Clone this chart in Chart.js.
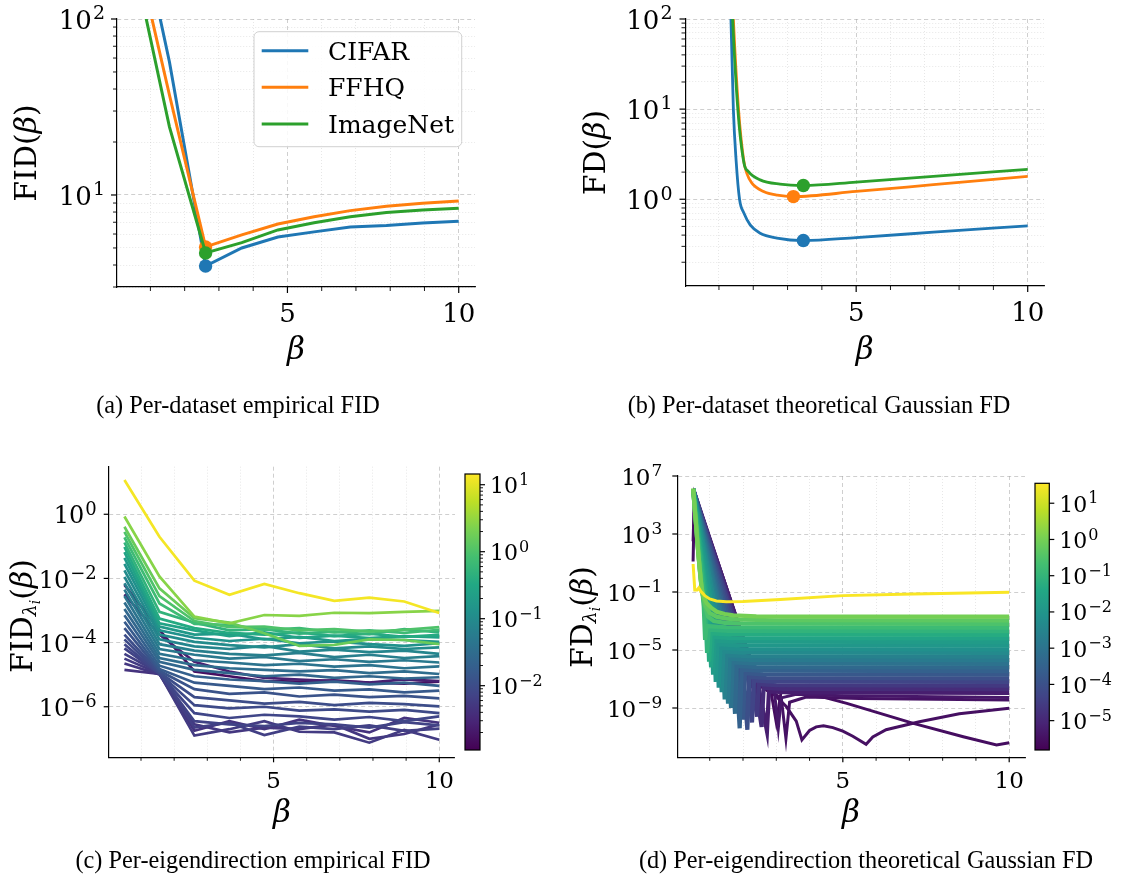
<!DOCTYPE html>
<html>
<head>
<meta charset="utf-8">
<script src="https://cdn.jsdelivr.net/npm/chart.js@4.4.1/dist/chart.umd.min.js"></script>
<style>
html, body { margin: 0; padding: 0; background: #fff; }
#fig { position: relative; width: 1125px; height: 886px; overflow: hidden; }
#fig canvas { position: absolute; left: 0; top: 0; }
.cap { position: absolute; width: 600px; text-align: center; font-family: "Liberation Serif", "Times New Roman", serif;
       font-size: 24.3px; line-height: 28px; color: #000; white-space: nowrap; }
</style>
</head>
<body>
<div id="fig">
  <canvas id="chA" width="1125" height="886"></canvas>
  <canvas id="chB" width="1125" height="886"></canvas>
  <canvas id="chC" width="1125" height="886"></canvas>
  <canvas id="chD" width="1125" height="886"></canvas>
  <canvas id="cbC" width="1125" height="886"></canvas>
  <canvas id="cbD" width="1125" height="886"></canvas>
  <div class="cap" style="left:-62px;top:391px">(a) Per-dataset empirical FID</div>
  <div class="cap" style="left:519px;top:391px">(b) Per-dataset theoretical Gaussian FD</div>
  <div class="cap" style="left:-47px;top:846px">(c) Per-eigendirection empirical FID</div>
  <div class="cap" style="left:566px;top:846px">(d) Per-eigendirection theoretical Gaussian FD</div>
</div>
<script>
const W = 1125, H = 886;

// (a) empirical FID per dataset, sampled at 10 values of beta
const betaA = [0.5, 1.556, 2.611, 3.667, 4.722, 5.778, 6.833, 7.889, 8.944, 10];
const cifarA = [520, 57, 3.95, 5.0, 5.77, 6.17, 6.58, 6.7, 6.93, 7.1];
const ffhqA = [290, 37, 5.07, 5.93, 6.84, 7.53, 8.15, 8.63, 8.98, 9.25];
const imagenetA = [220, 24.4, 4.68, 5.36, 6.33, 6.96, 7.53, 7.94, 8.22, 8.4];

// (b) theoretical Gaussian FD per dataset
const cifarBx = [1.30, 1.35, 1.42, 1.50, 1.60, 1.73, 1.91, 2.2, 2.69, 3.46, 5.0, 7.25, 10];
const cifarBy = [300, 100, 10, 2.7, 1.0, 0.70, 0.52, 0.42, 0.371, 0.348, 0.376, 0.431, 0.507];
const ffhqBx = [1.36, 1.42, 1.57, 1.72, 1.81, 1.96, 2.30, 2.7, 3.17, 5.0, 7.25, 10];
const ffhqBy = [400, 100, 10, 2.73, 1.95, 1.51, 1.22, 1.11, 1.07, 1.22, 1.45, 1.79];
const imagenetBx = [1.34, 1.40, 1.55, 1.73, 1.86, 2.20, 2.78, 3.46, 5.0, 7.25, 10];
const imagenetBy = [400, 100, 10, 2.51, 2.03, 1.64, 1.47, 1.42, 1.55, 1.79, 2.15];
const minIdxB = [9, 8, 7];

// (c) per-eigendirection empirical FID: log10 eigenvalue and log10 FID at betaA
const fidEig = [1.10, 0.42, 0.21, 0.0, -0.15, -0.3, -0.45, -0.6, -0.75, -0.9, -1.0, -1.1, -1.2, -1.3, -1.4,
                -1.5, -1.6, -1.7, -1.8, -1.9, -2.0, -2.05, -2.1, -2.15, -2.2, -2.25, -2.3, -2.35, -2.6, -2.8];
const fidLog = [
  [1.07, -0.70, -2.07, -2.51, -2.17, -2.46, -2.70, -2.60, -2.72, -3.08],
  [-0.07, -1.94, -3.19, -3.40, -3.14, -3.17, -3.07, -3.08, -3.04, -3.01],
  [-0.39, -2.31, -3.24, -3.38, -3.71, -4.10, -4.07, -3.90, -3.92, -4.05],
  [-0.55, -2.55, -3.33, -3.52, -3.50, -3.62, -3.58, -3.66, -3.60, -3.52],
  [-0.72, -2.78, -3.42, -3.45, -3.60, -3.55, -3.68, -3.62, -3.70, -3.60],
  [-0.88, -3.04, -3.38, -3.62, -3.58, -3.72, -3.66, -3.74, -3.58, -3.68],
  [-1.02, -3.25, -3.55, -3.70, -3.75, -3.68, -3.80, -3.72, -3.82, -3.76],
  [-1.18, -3.40, -3.62, -3.80, -3.68, -3.85, -3.78, -3.86, -3.80, -3.84],
  [-1.36, -3.50, -3.75, -3.72, -3.90, -3.82, -3.95, -3.88, -3.92, -3.98],
  [-1.55, -3.62, -3.85, -3.95, -3.88, -4.02, -3.96, -4.05, -4.10, -4.02],
  [-1.75, -3.75, -3.98, -4.08, -4.15, -4.05, -4.18, -4.12, -4.20, -4.15],
  [-1.95, -3.90, -4.12, -4.20, -4.10, -4.28, -4.22, -4.30, -4.25, -4.35],
  [-2.15, -4.05, -4.25, -4.35, -4.40, -4.32, -4.45, -4.38, -4.48, -4.42],
  [-2.35, -4.20, -4.38, -4.50, -4.45, -4.58, -4.52, -4.60, -4.55, -4.62],
  [-2.55, -4.35, -4.55, -4.62, -4.70, -4.66, -4.75, -4.70, -4.80, -4.74],
  [-2.75, -4.48, -4.70, -4.80, -4.85, -4.90, -4.86, -4.95, -4.90, -4.98],
  [-2.95, -4.60, -4.85, -4.95, -5.05, -5.00, -5.10, -5.05, -5.12, -5.08],
  [-3.15, -4.72, -5.05, -5.15, -5.20, -5.28, -5.22, -5.30, -5.25, -5.35],
  [-3.35, -4.82, -5.25, -5.35, -5.45, -5.40, -5.50, -5.46, -5.55, -5.50],
  [-3.55, -4.88, -5.45, -5.60, -5.55, -5.68, -5.62, -5.70, -5.66, -5.74],
  [-3.75, -4.93, -5.70, -5.80, -5.90, -5.85, -5.95, -5.88, -5.92, -5.99],
  [-3.90, -4.96, -5.95, -6.05, -6.00, -6.12, -6.08, -6.15, -6.10, -6.20],
  [-4.05, -4.98, -6.20, -6.35, -6.25, -6.30, -6.40, -6.32, -6.45, -6.30],
  [-4.18, -4.97, -6.45, -6.55, -6.60, -6.50, -6.55, -6.65, -6.48, -6.58],
  [-4.35, -4.95, -6.65, -6.50, -6.88, -6.62, -6.70, -6.58, -6.75, -6.68],
  [-4.50, -4.97, -6.90, -6.70, -6.45, -6.78, -6.80, -7.12, -6.72, -7.03],
  [-4.65, -4.99, -6.55, -6.80, -6.65, -6.70, -6.55, -7.00, -6.85, -6.55],
  [-4.85, -4.98, -6.75, -6.45, -6.70, -6.40, -6.60, -6.80, -6.35, -6.50],
  [-2.50, -3.75, -4.60, -4.90, -5.10, -5.15, -5.20, -5.25, -5.15, -5.20],
  [-2.20, -3.60, -4.90, -5.05, -5.20, -5.22, -5.18, -5.25, -5.28, -5.22]
];

// (d) per-eigendirection Gaussian FD: log10 eigenvalue and [beta, log10 FD] points
const fdEig = [0.0, -0.3, -0.55, -0.8, -1.05, -1.3, -1.55, -1.8, -1.95, -2.15, -2.35, -2.6, -2.8, -3.05,
               -3.3, -3.55, -3.8, -4.05, -4.3, -4.6, -4.9, -5.2, -5.35, -5.45, -5.55, -5.5];
const fdCurves = [
  [[0.5, 6.15], [0.57, 4.2], [0.63, 2.36], [0.7, 0.6], [0.76, -0.86], [0.83, -1.4], [0.91, -1.78], [1.05, -2.1], [1.21, -2.36], [1.45, -2.52], [1.71, -2.61], [2.4, -2.68], [3.5, -2.7], [10, -2.7]],
  [[0.5, 6.1], [0.58, 3.9], [0.65, 1.8], [0.72, 0.0], [0.79, -1.2], [0.87, -1.95], [1.0, -2.45], [1.2, -2.7], [1.5, -2.84], [1.9, -2.91], [3, -2.95], [10, -2.95]],
  [[0.5, 6.1], [0.59, 3.6], [0.67, 1.3], [0.75, -0.6], [0.84, -1.9], [0.95, -2.7], [1.12, -3.0], [1.45, -3.13], [2.0, -3.18], [10, -3.2]],
  [[0.5, 6.1], [0.82, -2.0], [0.86, -4.3], [0.91, -3.35], [1.5, -3.43], [10, -3.45]],
  [[0.5, 6.1], [0.86, -1.8], [0.92, -5.2], [0.97, -3.6], [1.55, -3.68], [10, -3.7]],
  [[0.5, 6.1], [0.92, -2.07], [0.98, -5.8], [1.03, -3.85], [1.6, -3.93], [10, -3.95]],
  [[0.5, 6.1], [0.97, -2.15], [1.04, -6.2], [1.09, -4.1], [1.65, -4.18], [10, -4.2]],
  [[0.5, 6.1], [1.04, -2.45], [1.1, -6.7], [1.15, -4.35], [1.7, -4.43], [10, -4.45]],
  [[0.5, 6.1], [1.11, -2.68], [1.18, -7.2], [1.23, -4.6], [1.8, -4.68], [10, -4.7]],
  [[0.5, 6.1], [1.2, -3.15], [1.27, -7.6], [1.32, -4.85], [1.9, -4.93], [10, -4.95]],
  [[0.5, 6.1], [1.28, -3.45], [1.36, -7.9], [1.41, -5.1], [2.0, -5.18], [10, -5.2]],
  [[0.5, 6.1], [1.36, -3.74], [1.45, -8.4], [1.5, -5.35], [2.1, -5.43], [10, -5.45]],
  [[0.5, 6.1], [1.46, -4.1], [1.55, -8.7], [1.6, -5.6], [2.2, -5.68], [10, -5.7]],
  [[0.5, 6.1], [1.53, -4.24], [1.64, -9.0], [1.69, -5.85], [2.3, -5.93], [10, -5.95]],
  [[0.5, 6.1], [1.64, -4.64], [1.76, -9.4], [1.81, -6.1], [2.4, -6.18], [10, -6.2]],
  [[0.5, 6.1], [1.77, -5.19], [1.9, -10.4], [1.96, -6.35], [2.5, -6.43], [10, -6.45]],
  [[0.5, 6.1], [1.87, -5.44], [2.0, -9.8], [2.06, -6.6], [2.6, -6.68], [10, -6.7]],
  [[0.5, 6.1], [1.98, -5.73], [2.13, -10.5], [2.19, -6.85], [2.7, -6.93], [10, -6.95]],
  [[0.5, 6.1], [2.12, -6.18], [2.27, -10.0], [2.33, -7.1], [2.9, -7.18], [10, -7.2]],
  [[0.5, 6.1], [2.25, -6.64], [2.42, -9.6], [2.48, -7.35], [3.0, -7.43], [10, -7.45]],
  [[0.5, 6.1], [2.35, -7.04], [2.56, -10.3], [2.62, -7.6], [3.2, -7.68], [10, -7.7]],
  [[0.5, 6.1], [2.45, -7.35], [2.72, -10.6], [2.78, -7.85], [3.4, -7.93], [10, -7.95]],
  [[0.5, 6.1], [2.46, -7.2], [2.95, -8.0], [3.06, -10.4], [3.15, -8.3], [3.6, -8.05], [5, -8.15], [10, -8.27]],
  [[0.5, 6.1], [2.49, -7.4], [3.15, -8.3], [3.29, -11.1], [3.4, -8.6], [3.9, -8.25], [5.5, -8.35], [10, -8.45]],
  [[0.5, 2.5], [0.54, 5.7], [2.45, -7.3], [2.85, -8.0], [3.0, -10.0], [3.15, -7.8], [3.62, -7.76], [5.12, -8.68], [7.12, -10.06], [8.62, -10.98], [9.62, -11.55], [10, -11.39]],
  [[0.5, 1.1], [0.54, 5.6], [2.45, -7.4], [2.95, -8.1], [3.3, -8.9], [3.6, -9.9], [3.77, -11.2], [4.0, -10.55], [4.2, -10.3], [4.42, -10.22], [4.7, -10.35], [5.0, -10.6], [5.3, -10.95], [5.7, -11.5], [5.9, -11.0], [6.3, -10.5], [7.3, -9.95], [8.5, -9.4], [10, -9.02]]
];
const fdYellowEig = 1.5;
const fdYellow = [[0.5, 0.93], [0.55, -0.86], [0.62, -0.86], [0.67, -0.72], [0.73, -0.95], [0.85, -1.25], [1.0, -1.48],
                  [1.2, -1.62], [1.5, -1.68], [2.0, -1.66], [3.12, -1.51], [5, -1.25], [7.12, -1.14], [10, -1.02]];

// colour bar ranges (log10)
const cbRangeC = [-2.96, 1.16];
const cbRangeD = [-5.81, 1.55];

const legendNames = ['CIFAR', 'FFHQ', 'ImageNet'];
const tab = ['#1f77b4', '#ff7f0e', '#2ca02c'];
const VIR = ['#440154', '#482475', '#414487', '#355f8d', '#2a788e', '#21918c', '#22a884', '#44bf70', '#7ad151', '#bddf26', '#fde725'];

function hexRgb(h) { return [1, 3, 5].map(i => parseInt(h.substr(i, 2), 16)); }
function viridis(t) {
  t = Math.max(0, Math.min(1, t));
  const p = t * 10, i = Math.min(9, Math.floor(p)), f = p - i;
  const a = hexRgb(VIR[i]), b = hexRgb(VIR[i + 1]);
  return 'rgb(' + a.map((v, k) => Math.round(v + (b[k] - v) * f)).join(',') + ')';
}
const font = (sz, it) => (it ? 'italic ' : '') + sz + 'px "DejaVu Serif"';

function minorsBetween(lo, hi) {
  const out = [];
  for (let k = lo; k < hi; k++) for (let m = 2; m <= 9; m++) out.push(m * Math.pow(10, k));
  return out;
}
function tickList(majors, minors, lo, hi) {
  const t = majors.map(v => ({ value: v, major: true })).concat(minors.map(v => ({ value: v, major: false })));
  return t.filter(o => o.value >= lo * 0.9999 && o.value <= hi * 1.0001).sort((a, b) => a.value - b.value);
}
const xTicks = [1, 2, 3, 4, 5, 6, 7, 8, 9, 10].map(v => ({ value: v, major: v === 5 || v === 10 }));

function pow10(ctx, e, x, y, size, align) {
  const ex = e < 0 ? '\u2212' + (-e) : String(e);
  const f1 = font(size), f2 = font(Math.round(size * 0.74));
  ctx.font = f1; const w1 = ctx.measureText('10').width;
  ctx.font = f2; const w2 = ctx.measureText(ex).width;
  const x0 = align === 'right' ? x - w1 - w2 - 1 : x;
  ctx.textAlign = 'left'; ctx.textBaseline = 'alphabetic';
  ctx.font = f1; ctx.fillText('10', x0, y);
  ctx.font = f2; ctx.fillText(ex, x0 + w1 + 1, y - size * 0.37);
}

function rich(ctx, segs, cx, cy, rot) {
  let w = 0;
  segs.forEach(s => { ctx.font = s.f; s.w = ctx.measureText(s.t).width; w += s.w; });
  ctx.save();
  ctx.translate(cx, cy);
  if (rot) ctx.rotate(-Math.PI / 2);
  ctx.fillStyle = '#000'; ctx.textAlign = 'left'; ctx.textBaseline = 'alphabetic';
  let x = -w / 2;
  segs.forEach(s => { ctx.font = s.f; ctx.fillText(s.t, x, s.dy || 0); x += s.w; });
  ctx.restore();
}
const betaLabel = (cx, by) => ctx => rich(ctx, [{ t: 'β', f: font(31, true) }], cx, by, false);
function yName(name, sub) {
  const s = [{ t: name, f: font(30) }];
  if (sub) s.push({ t: 'λ', f: font(19, true), dy: 4 }, { t: 'i', f: font(14, true), dy: 8 });
  s.push({ t: '(', f: font(30) }, { t: 'β', f: font(30, true) }, { t: ')', f: font(30) });
  return s;
}

function decor(cfg) {
  return {
    id: 'decor',
    afterDraw(chart) {
      const ctx = chart.ctx, a = chart.chartArea;
      ctx.save();
      if (cfg.pre) cfg.pre(ctx, a);
      ctx.strokeStyle = '#000'; ctx.fillStyle = '#000'; ctx.setLineDash([]);
      const xs = chart.scales.x, ys = chart.scales.y;
      if (cfg.x) {
        for (const t of xs.ticks) {
          const px = xs.getPixelForValue(t.value);
          ctx.lineWidth = t.major ? 1.2 : 0.9;
          ctx.beginPath(); ctx.moveTo(px, a.bottom); ctx.lineTo(px, a.bottom + (t.major ? cfg.x.maj : cfg.x.min)); ctx.stroke();
          if (t.major) {
            ctx.font = font(cfg.x.size); ctx.textAlign = 'center'; ctx.textBaseline = 'alphabetic';
            ctx.fillText(String(t.value), px, a.bottom + cfg.x.base);
          }
        }
      }
      if (cfg.y) {
        const right = !!cfg.y.right, edge = right ? a.right : a.left, dir = right ? 1 : -1;
        for (const t of ys.ticks) {
          const py = ys.getPixelForValue(t.value);
          ctx.lineWidth = t.major ? 1.2 : 0.9;
          ctx.beginPath(); ctx.moveTo(edge, py); ctx.lineTo(edge + dir * (t.major ? cfg.y.maj : cfg.y.min), py); ctx.stroke();
          if (t.major) pow10(ctx, Math.round(Math.log10(t.value)), edge + dir * cfg.y.gap, py + cfg.y.size * 0.38, cfg.y.size, right ? 'left' : 'right');
        }
      }
      (cfg.post || []).forEach(fn => fn(ctx, a));
      ctx.restore();
    }
  };
}

const isMaj = c => !!(c.tick && c.tick.major);
function gridOpts(minor) {
  return {
    drawTicks: false,
    color: c => isMaj(c) ? 'rgba(160,160,160,0.5)' : (minor ? 'rgba(160,160,160,0.32)' : 'rgba(0,0,0,0)'),
    lineWidth: c => isMaj(c) ? 1 : 0.8
  };
}
const borderOpts = { color: '#000', width: 1.2, dash: c => c.tick ? (isMaj(c) ? [4, 3] : [1, 2]) : [] };

function makeChart(id, area, xs, ys, datasets, deco) {
  datasets.forEach((d, i) => { d.order = datasets.length - i; });
  return new Chart(document.getElementById(id), {
    type: 'line',
    data: { datasets },
    options: {
      responsive: false, animation: false, events: [],
      layout: { padding: { left: area[0], top: area[1], right: W - area[2], bottom: H - area[3] } },
      plugins: { legend: { display: false }, tooltip: { enabled: false } },
      scales: {
        x: Object.assign({
          type: 'linear', bounds: 'data', min: 0.025, max: 10.475,
          afterBuildTicks: s => { s.ticks = xTicks.map(t => ({ ...t })); },
          afterFit: s => { s.height = 0; },
          ticks: { display: false }, grid: gridOpts(true), border: borderOpts
        }, xs || {}),
        y: Object.assign({
          type: 'logarithmic', bounds: 'data', min: ys.min, max: ys.max,
          afterBuildTicks: s => { s.ticks = ys.ticks.map(t => ({ ...t })); },
          afterFit: s => { s.width = 0; },
          ticks: { display: false }, grid: gridOpts(ys.minorGrid), border: borderOpts
        }, ys.extra || {})
      }
    },
    plugins: [decor(deco)]
  });
}

function line(points, color, lw, radii, mode) {
  return {
    data: points, borderColor: color, backgroundColor: color, borderWidth: lw,
    pointRadius: radii || 0, pointBorderWidth: 0, pointBackgroundColor: color,
    fill: false, tension: 0, cubicInterpolationMode: mode || 'default'
  };
}

function build() {
  // ---------- (a)
  const areaA = [117, 19, 475, 287];
  const dsA = [cifarA, ffhqA, imagenetA].map((ys, k) =>
    line(betaA.map((x, i) => ({ x, y: ys[i] })), tab[k], 3, betaA.map((_, i) => i === 2 ? 6.7 : 0)));
  const legendA = ctx => {
    const bx = 254, by = 31.7, bw = 207.7, bh = 115, r = 5;
    ctx.beginPath();
    ctx.moveTo(bx + r, by); ctx.arcTo(bx + bw, by, bx + bw, by + bh, r); ctx.arcTo(bx + bw, by + bh, bx, by + bh, r);
    ctx.arcTo(bx, by + bh, bx, by, r); ctx.arcTo(bx, by, bx + bw, by, r); ctx.closePath();
    ctx.fillStyle = 'rgba(255,255,255,0.85)'; ctx.fill();
    ctx.strokeStyle = '#d0d0d0'; ctx.lineWidth = 1; ctx.stroke();
    const rows = [50.7, 87.3, 124];
    legendNames.forEach((n, k) => {
      ctx.strokeStyle = tab[k]; ctx.lineWidth = 3;
      ctx.beginPath(); ctx.moveTo(261.7, rows[k]); ctx.lineTo(308.3, rows[k]); ctx.stroke();
      ctx.fillStyle = '#000'; ctx.font = font(25); ctx.textAlign = 'left'; ctx.textBaseline = 'alphabetic';
      ctx.fillText(n, 328, rows[k] + 9);
    });
  };
  makeChart('chA', areaA, null,
    { min: 3.0, max: 100, minorGrid: true, ticks: tickList([10, 100], minorsBetween(0, 2), 3.0, 100) },
    dsA,
    { x: { maj: 6, min: 4, size: 26, base: 35 }, y: { maj: 6, min: 4, size: 26, gap: 12 },
      post: [legendA, betaLabel(296, 359), ctx => rich(ctx, yName('FID', false), 36, 153, true)] });

  // ---------- (b)
  const areaB = [685.5, 19, 1044, 286];
  const dsB = [[cifarBx, cifarBy], [ffhqBx, ffhqBy], [imagenetBx, imagenetBy]].map(([xs, ys], k) =>
    line(xs.map((x, i) => ({ x, y: ys[i] })), tab[k], 2.8, xs.map((_, i) => i === minIdxB[k] ? 6.7 : 0), 'monotone'));
  makeChart('chB', areaB, null,
    { min: 0.109, max: 100, minorGrid: true, ticks: tickList([1, 10, 100], minorsBetween(-1, 2), 0.109, 100) },
    dsB,
    { x: { maj: 6, min: 4, size: 26, base: 35 }, y: { maj: 6, min: 4, size: 26, gap: 13 },
      post: [betaLabel(864.8, 359), ctx => rich(ctx, yName('FD', false), 605, 152.5, true)] });

  // ---------- (c): darkest drawn first, yellow last
  const areaC = [108.7, 466.7, 455, 757.3];
  const dsC = [];
  for (let k = fidLog.length - 1; k >= 0; k--) {
    const t = (fidEig[k] - cbRangeC[0]) / (cbRangeC[1] - cbRangeC[0]);
    dsC.push(line(betaA.map((x, i) => ({ x, y: Math.pow(10, fidLog[k][i]) })), viridis(t), 2.7));
  }
  makeChart('chC', areaC, null,
    { min: Math.pow(10, -7.576), max: Math.pow(10, 1.483), minorGrid: false, ticks: tickList([1, 1e-2, 1e-4, 1e-6], [], 1e-8, 100) },
    dsC,
    { x: { maj: 5, min: 3.5, size: 23, base: 31 }, y: { maj: 5, min: 3.5, size: 24, gap: 12 },
      post: [betaLabel(282, 822), ctx => rich(ctx, yName('FID', true), 32, 616, true)] });

  // ---------- (d): darkest drawn first, yellow last
  const areaD = [677.3, 476, 1025, 757.3];
  const dsD = [];
  for (let k = fdCurves.length - 1; k >= 0; k--) {
    const t = (fdEig[k] - cbRangeD[0]) / (cbRangeD[1] - cbRangeD[0]);
    dsD.push(line(fdCurves[k].map(p => ({ x: p[0], y: Math.pow(10, p[1]) })), viridis(t), k < 22 ? 4.2 : 3));
  }
  dsD.push(line(fdYellow.map(p => ({ x: p[0], y: Math.pow(10, p[1]) })),
    viridis((fdYellowEig - cbRangeD[0]) / (cbRangeD[1] - cbRangeD[0])), 3));
  makeChart('chD', areaD, null,
    { min: Math.pow(10, -12.4), max: 1e7, minorGrid: false, ticks: tickList([1e7, 1e3, 1e-1, 1e-5, 1e-9], [], 1e-13, 1e7) },
    dsD,
    { x: { maj: 5, min: 3.5, size: 23, base: 31 }, y: { maj: 5, min: 3.5, size: 23, gap: 15 },
      post: [betaLabel(851, 822), ctx => rich(ctx, yName('FD', true), 592, 617, true)] });

  // ---------- colour bars
  const barFill = (ctx, a) => {
    const g = ctx.createLinearGradient(0, a.bottom, 0, a.top);
    VIR.forEach((c, i) => g.addColorStop(i / 10, c));
    ctx.fillStyle = g; ctx.fillRect(a.left, a.top, a.right - a.left, a.bottom - a.top);
    ctx.strokeStyle = '#000'; ctx.lineWidth = 1.2; ctx.strokeRect(a.left, a.top, a.right - a.left, a.bottom - a.top);
  };
  const cbar = (id, area, rng, majors, minors) => {
    const lo = Math.pow(10, rng[0]), hi = Math.pow(10, rng[1]);
    makeChart(id, area, { display: false },
      { min: lo, max: hi, ticks: tickList(majors, minors, lo, hi),
        extra: { position: 'right', grid: { display: false }, border: { display: false } } },
      [],
      { pre: barFill, y: { right: true, maj: 5, min: 3, size: 22, gap: 10 } });
  };
  cbar('cbC', [465, 474, 480, 750], cbRangeC, [10, 1, 0.1, 0.01], minorsBetween(-3, 1));
  cbar('cbD', [1035, 483.3, 1049.3, 750], cbRangeD, [10, 1, 0.1, 0.01, 1e-3, 1e-4, 1e-5], []);
}

const fontsReady = document.fonts && document.fonts.load
  ? Promise.all([document.fonts.load('30px "DejaVu Serif"'), document.fonts.load('italic 30px "DejaVu Serif"')])
  : Promise.resolve();
fontsReady.then(build, build);
</script>
</body>
</html>
